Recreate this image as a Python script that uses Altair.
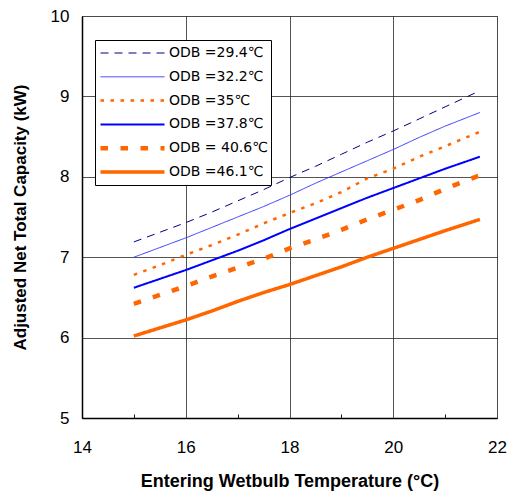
import altair as alt
import pandas as pd

# Entering wetbulb temperature (°C)
x_wb = [15, 15.5, 16, 16.5, 17, 17.5, 18, 18.5, 19, 19.5, 20, 20.5, 21, 21.67]

odb_labels = ["ODB =29.4℃", "ODB =32.2℃", "ODB =35℃", "ODB =37.8℃", "ODB = 40.6℃", "ODB =46.1℃"]

cap_294 = [7.19, 7.31, 7.43, 7.56, 7.70, 7.84, 7.99, 8.13, 8.28, 8.43, 8.57, 8.72, 8.87, 9.07]
cap_322 = [7.00, 7.12, 7.24, 7.37, 7.50, 7.63, 7.77, 7.92, 8.06, 8.20, 8.34, 8.49, 8.63, 8.80]
cap_350 = [6.78, 6.90, 7.03, 7.15, 7.28, 7.42, 7.55, 7.67, 7.81, 7.98, 8.10, 8.25, 8.38, 8.56]
cap_378 = [6.62, 6.73, 6.84, 6.96, 7.08, 7.21, 7.35, 7.48, 7.61, 7.74, 7.86, 7.98, 8.10, 8.25]
cap_406 = [6.42, 6.53, 6.64, 6.76, 6.87, 6.98, 7.11, 7.22, 7.34, 7.47, 7.59, 7.71, 7.85, 8.02]
cap_461 = [6.02, 6.12, 6.22, 6.33, 6.45, 6.56, 6.66, 6.77, 6.88, 7.00, 7.11, 7.22, 7.33, 7.47]

series = [cap_294, cap_322, cap_350, cap_378, cap_406, cap_461]

line_colors = ["#000080", "#3333FF", "#FF6600", "#0000FF", "#FF6600", "#FF6600"]
line_dashes = [[8, 6], [1, 0], [3.5, 6.5], [1, 0], [7.5, 12.5], [1, 0]]
line_widths = [1, 1, 2.5, 2, 4.5, 3.5]

x_ticks = [14 + 0.5 * i for i in range(17)]
y_ticks = [5 + 0.25 * i for i in range(21)]

rows = []
for lab, vals in zip(odb_labels, series):
    for xv, yv in zip(x_wb, vals):
        rows.append({"wb": xv, "cap": yv, "odb": lab})
df = pd.DataFrame(rows)

FONT = "Liberation Sans"
PLOT_W = 415
PLOT_H = 402

chart = alt.Chart(df).mark_line(strokeCap="butt").encode(
    x=alt.X(
        "wb:Q",
        scale=alt.Scale(domain=[14, 22], nice=False, zero=False),
        axis=alt.Axis(
            values=x_ticks,
            format="d",
            labelExpr="datum.value % 2 === 0 ? datum.label : ''",
            labelOverlap=False,
            labelFlush=False,
            ticks=False,
            grid=True,
            gridColor="#1a1a1a",
            gridWidth=1,
            gridOpacity=1,
            gridDash={"condition": {"test": "datum.value % 2 === 0", "value": [1, 0]},
                      "value": [0, PLOT_H - 4, 4, 2000]},
            domainColor="#000000",
            domainWidth=1.5,
            labelFont=FONT,
            labelFontSize=17,
            labelColor="#000000",
            labelPadding=21,
            title="Entering Wetbulb Temperature (°C)",
            titleFont=FONT,
            titleFontSize=18,
            titleFontWeight="bold",
            titleColor="#000000",
            titleBaseline="alphabetic",
            titleY=68,
        ),
    ),
    y=alt.Y(
        "cap:Q",
        scale=alt.Scale(domain=[5, 10], nice=False, zero=False),
        axis=alt.Axis(
            values=y_ticks,
            format="d",
            labelExpr="datum.value % 1 === 0 ? datum.label : ''",
            labelOverlap=False,
            labelFlush=False,
            ticks=False,
            grid=True,
            gridColor="#1a1a1a",
            gridWidth=1,
            gridOpacity=1,
            gridDash={"condition": {"test": "datum.value % 1 === 0", "value": [1, 0]},
                      "value": [4, 2000]},
            domainColor="#000000",
            domainWidth=1.5,
            labelFont=FONT,
            labelFontSize=17,
            labelColor="#000000",
            labelPadding=13,
            title="Adjusted Net Total Capacity (kW)",
            titleFont=FONT,
            titleFontSize=17,
            titleFontWeight="bold",
            titleColor="#000000",
            titleBaseline="alphabetic",
            titleX=-57,
        ),
    ),
    color=alt.Color(
        "odb:N",
        scale=alt.Scale(domain=odb_labels, range=line_colors),
        title=None,
        legend=alt.Legend(
            orient="none",
            legendX=13,
            legendY=24,
            symbolType="stroke",
            symbolSize=4096,
            clipHeight=20,
            rowPadding=3.8,
            padding=3,
            strokeColor="#000000",
            fillColor="#ffffff",
            labelFont="DejaVu Sans",
            labelFontSize=14,
            labelColor="#000000",
            labelOffset=2,
            labelLimit=200,
        ),
    ),
    strokeDash=alt.StrokeDash(
        "odb:N",
        scale=alt.Scale(domain=odb_labels, range=line_dashes),
        title=None,
    ),
    strokeWidth=alt.StrokeWidth(
        "odb:N",
        scale=alt.Scale(type="ordinal", domain=odb_labels, range=line_widths),
        title=None,
    ),
).properties(
    width=PLOT_W,
    height=PLOT_H,
    autosize=alt.AutoSizeParams(type="none"),
    padding={"left": 82, "top": 16, "right": 10, "bottom": 73},
).configure_view(
    stroke="#808080",
    strokeWidth=2,
).configure(
    background="#ffffff",
)

chart.save("out.html", embed_options={"renderer": "svg", "actions": False})
